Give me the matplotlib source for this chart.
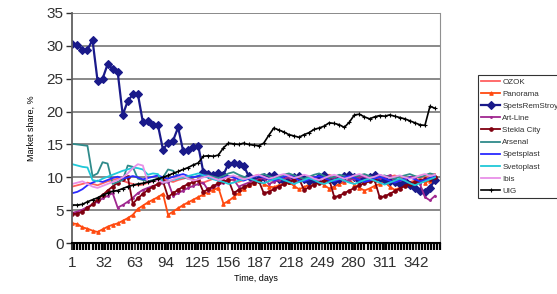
import numpy as np
import matplotlib
matplotlib.use("Agg")
import matplotlib.pyplot as plt
from matplotlib.ticker import MultipleLocator, FixedLocator

# days sampled every 5 days
days = list(range(1, 362, 5))

ozok = [8.6, 8.8, 9.0, 9.2, 9.0, 8.8, 9.1, 9.4, 9.6, 9.8,
        9.5, 9.2, 9.0, 8.8, 8.9, 9.2, 9.4, 9.6, 9.8, 9.5,
        9.3, 9.6, 9.8, 10.0, 9.7, 9.4, 9.2, 9.5, 9.8, 10.1,
        10.3, 9.8, 9.5, 9.3, 9.6, 9.9, 10.2, 10.4, 10.0, 9.6,
        9.4, 9.7, 10.0, 10.3, 10.1, 9.8, 9.5, 9.3, 9.6, 9.9,
        10.2, 10.4, 10.1, 9.7, 9.4, 9.6, 9.9, 10.2, 10.4, 10.0,
        9.7, 9.5, 9.8, 10.1, 10.3, 10.0, 9.6, 9.3, 9.5, 9.8,
        10.1, 10.3, 10.5]
panorama = [3.0, 2.9, 2.4, 2.2, 1.9, 1.7, 2.1, 2.5, 2.8, 3.0,
            3.4, 3.8, 4.3, 5.2, 5.7, 6.2, 6.6, 7.0, 7.5, 4.3,
            4.8, 5.3, 5.8, 6.2, 6.6, 7.0, 7.4, 7.8, 8.1, 8.4,
            6.0, 6.4, 7.0, 7.6, 8.2, 8.8, 9.2, 9.4, 9.0, 8.6,
            8.5, 8.8, 9.1, 9.3, 8.7, 8.2, 8.5, 8.9, 9.2, 9.5,
            8.8, 8.3, 8.6, 9.0, 9.3, 9.6, 8.9, 8.4, 8.0, 8.3,
            8.7, 9.0, 9.3, 8.6, 8.1, 8.4, 8.8, 9.1, 9.4, 9.6,
            9.2, 9.5, 9.8]
spetsremstroy = [30.3, 30.2, 29.4, 29.4, 30.9, 24.7, 25.0, 27.2, 26.5, 26.0,
                 19.5, 21.6, 22.6, 22.7, 18.4, 18.5, 18.0, 17.9, 14.2, 15.3,
                 15.6, 17.6, 14.0, 14.2, 14.6, 14.8, 10.8, 10.5, 10.3, 10.6,
                 10.4, 12.1, 12.2, 12.0, 11.8, 10.2, 9.6, 9.8, 10.0, 10.2,
                 10.3, 9.8, 9.5, 9.7, 10.0, 10.2, 9.7, 9.4, 9.6, 10.1,
                 10.3, 9.8, 9.5, 9.8, 10.2, 10.3, 10.0, 9.6, 9.8, 10.1,
                 10.3, 9.9, 9.6, 9.5, 9.3, 9.0, 9.4, 8.8, 8.4, 8.0,
                 7.8, 8.4, 9.6]
art_line = [4.6, 4.8, 5.1, 5.5, 5.9, 6.3, 6.8, 7.2, 7.6, 5.4,
            5.8, 6.3, 6.9, 7.6, 8.1, 8.4, 8.7, 8.9, 9.1, 9.3,
            7.2, 7.6, 8.0, 8.4, 8.7, 9.0, 9.2, 8.0, 8.5, 8.9,
            9.2, 9.5, 9.7, 8.6, 8.9, 9.2, 9.5, 9.7, 9.9, 9.0,
            9.3, 9.6, 9.8, 10.0, 9.2, 9.4, 9.7, 9.9, 10.1, 9.3,
            9.5, 9.8, 10.0, 10.2, 9.4, 9.6, 9.8, 10.0, 10.2, 9.5,
            9.7, 9.9, 10.1, 10.3, 9.4, 9.6, 9.8, 10.0, 10.1, 9.0,
            7.0, 6.5, 7.2]
stekla_city = [4.4, 4.5, 4.8, 5.3, 5.9, 6.6, 7.3, 8.0, 8.6, 9.2,
               9.8, 10.1, 6.0, 6.8, 7.5, 8.1, 8.6, 9.0, 9.4, 7.0,
               7.6, 8.1, 8.6, 9.0, 9.3, 9.6, 7.8, 8.2, 8.7, 9.1,
               9.4, 9.6, 7.6, 8.1, 8.5, 8.9, 9.2, 9.5, 7.6, 7.8,
               8.2, 8.6, 9.0, 9.3, 9.6, 9.8, 8.1, 8.5, 8.9, 9.2,
               9.5, 9.7, 7.0, 7.2, 7.6, 8.0, 8.4, 8.8, 9.1, 9.4,
               9.6, 7.0, 7.1, 7.5, 7.9, 8.3, 8.7, 9.0, 9.3, 9.5,
               9.7, 9.8, 10.0]
arsenal = [15.1, 15.0, 14.9, 14.8, 10.2, 10.6, 12.3, 12.1, 9.0, 9.3,
           9.6, 11.8, 11.6, 9.8, 9.6, 9.4, 9.6, 9.8, 10.0, 11.2,
           11.0, 10.2, 10.0, 9.8, 10.0, 10.2, 10.4, 10.3, 10.1, 9.9,
           10.2, 10.6, 10.8, 10.4, 10.1, 9.9, 10.1, 10.3, 10.5, 10.2,
           9.9, 10.1, 10.4, 10.6, 10.3, 10.0, 9.8, 10.1, 10.4, 10.6,
           10.2, 9.9, 10.1, 10.4, 10.2, 9.9, 10.1, 10.3, 10.5, 10.2,
           9.9, 10.1, 10.3, 10.0, 9.8, 10.1, 10.3, 10.5, 10.2, 10.0,
           10.3, 10.6, 10.4]
spetsplast = [7.6, 7.8, 8.2, 8.8, 9.2, 9.5, 9.3, 9.6, 9.9, 10.1,
              9.8, 10.0, 10.2, 10.0, 9.7, 9.9, 10.1, 10.3, 10.0, 9.8,
              10.1, 10.3, 10.5, 10.2, 10.0, 10.2, 10.4, 10.1, 9.8, 9.6,
              9.9, 10.2, 10.0, 9.7, 9.5, 9.8, 10.1, 10.3, 10.0, 9.7,
              9.5, 9.8, 10.1, 10.3, 10.0, 9.6, 9.4, 9.7, 10.0, 10.2,
              9.9, 9.6, 9.4, 9.7, 10.0, 10.2, 9.9, 9.6, 9.3, 9.5,
              9.8, 10.1, 9.8, 9.5, 9.2, 9.5, 9.8, 10.0, 9.7, 9.4,
              9.6, 9.9, 10.1]
svetoplast = [12.0, 11.8, 11.6, 11.5, 9.6, 9.4, 9.8, 10.1, 10.4, 10.7,
              11.0, 11.2, 11.5, 11.4, 11.2, 10.4, 10.6, 10.5, 9.2, 9.4,
              9.6, 9.8, 10.0, 10.2, 10.4, 10.6, 10.3, 10.0, 9.7, 9.5,
              9.3, 9.0, 9.2, 9.5, 9.7, 9.9, 9.6, 9.3, 9.1, 9.4,
              9.7, 9.9, 9.6, 9.3, 9.0, 9.3, 9.6, 9.9, 9.6, 9.2,
              9.0, 9.3, 9.6, 9.8, 9.5, 9.2, 9.0, 9.3, 9.6, 9.8,
              9.5, 9.2, 8.9, 9.2, 9.5, 9.8, 9.5, 9.1, 8.8, 9.1,
              9.4, 9.7, 10.0]
ibis = [9.0, 9.2, 9.4, 9.0, 8.6, 8.4, 8.7, 9.0, 9.3, 9.6,
        10.0, 10.6, 11.4, 12.0, 11.8, 9.2, 9.4, 9.6, 9.2, 9.4,
        9.7, 10.0, 10.2, 9.8, 9.5, 9.7, 10.0, 10.2, 9.9, 9.6,
        9.8, 10.1, 10.3, 10.0, 9.7, 9.9, 10.2, 10.4, 10.1, 9.8,
        10.0, 10.3, 10.5, 10.2, 9.9, 10.1, 10.4, 10.2, 9.8, 9.6,
        9.9, 10.2, 10.4, 10.1, 9.8, 10.0, 10.3, 10.5, 10.2, 9.9,
        10.1, 10.4, 10.2, 9.9, 10.1, 10.3, 10.0, 9.8, 10.0, 10.3,
        10.5, 10.2, 10.4]
uig = [5.8, 5.8, 5.9, 6.3, 6.6, 6.9, 7.3, 7.6, 7.9, 8.0,
       8.3, 8.6, 8.8, 9.0, 9.1, 9.3, 9.5, 9.8, 10.0, 10.3,
       10.6, 10.9, 11.2, 11.5, 11.9, 12.2, 13.2, 13.3, 13.2, 13.4,
       14.5, 15.2, 15.1, 15.0, 15.2, 15.0, 14.9, 14.8, 15.2, 16.4,
       17.5, 17.2, 16.9, 16.5, 16.3, 16.1, 16.5, 16.8, 17.3, 17.5,
       17.8, 18.3, 18.2, 18.0, 17.6, 18.4, 19.5, 19.6, 19.2, 18.9,
       19.2, 19.4, 19.3, 19.5, 19.3, 19.1, 18.9, 18.6, 18.3, 18.0,
       17.9, 20.8, 20.5]

names = ["OZOK", "Panorama", "SpetsRemStroy", "Art-Line", "Stekla City",
         "Arsenal", "Spetsplast", "Svetoplast", "Ibis", "UIG"]
series = [ozok, panorama, spetsremstroy, art_line, stekla_city,
          arsenal, spetsplast, svetoplast, ibis, uig]
colors = ["#ff6060", "#ff4a10", "#1a1a8a", "#a02890", "#800010",
          "#2f8a8a", "#2a2aff", "#20c8d8", "#e890e8", "#000000"]
markers = [None, "^", "D", ".", "o", None, None, None, None, "+"]
msizes = [0, 2.5, 3.8, 2.5, 2.5, 0, 0, 0, 0, 3.5]
widths = [1.3, 1.3, 1.6, 1.3, 1.3, 1.3, 1.3, 1.3, 1.3, 1.2]

xticks = [1, 32, 63, 94, 125, 156, 187, 218, 249, 280, 311, 342]

plt.rcParams["font.family"] = ["Liberation Sans", "DejaVu Sans"]
fig = plt.figure(figsize=(5.57, 2.94), dpi=100)
ax = fig.add_axes([0.129, 0.173, 0.661, 0.783])

for name, vals, c, m, ms, lw in zip(names, series, colors, markers, msizes, widths):
    ax.plot(days, vals, color=c, lw=lw, marker=m, markersize=ms,
            markeredgewidth=0.8, label=name)

ax.set_xlim(0.5, 366)
ax.set_ylim(0, 35)
ax.yaxis.set_major_locator(MultipleLocator(5))
ax.xaxis.set_major_locator(FixedLocator(xticks))
ax.xaxis.set_minor_locator(MultipleLocator(3))
ax.grid(axis="y", color="#808080", lw=1.3)
ax.set_axisbelow(True)

ax.spines["top"].set_visible(False)
ax.spines["right"].set_color("#909090")
ax.spines["left"].set_color("#606060")
ax.spines["left"].set_linewidth(1.3)
ax.spines["bottom"].set_color("black")
ax.spines["bottom"].set_linewidth(1.5)

ax.tick_params(axis="y", labelsize=11, colors="#303030", length=4, width=1, pad=2)
ax.tick_params(axis="x", which="major", labelsize=11, colors="#303030",
               length=5, width=1.5, pad=4)
ax.tick_params(axis="x", which="minor", length=5, width=1.6, color="black")
for t in ax.get_xticklines():
    t.set_color("black")

ax.set_ylabel("Market share, %", fontsize=6.5, labelpad=8)
ax.set_xlabel("Time, days", fontsize=6.5, labelpad=3)

leg = fig.legend(loc="upper left", bbox_to_anchor=(0.851, 0.758), fontsize=5.8,
                 frameon=True, fancybox=False, edgecolor="black",
                 handlelength=2.3, labelspacing=0.55, borderpad=0.4,
                 handletextpad=0.3)
leg.get_frame().set_linewidth(0.8)
for t in leg.get_texts():
    t.set_color("#303030")

fig.savefig("out.png", dpi=100)
